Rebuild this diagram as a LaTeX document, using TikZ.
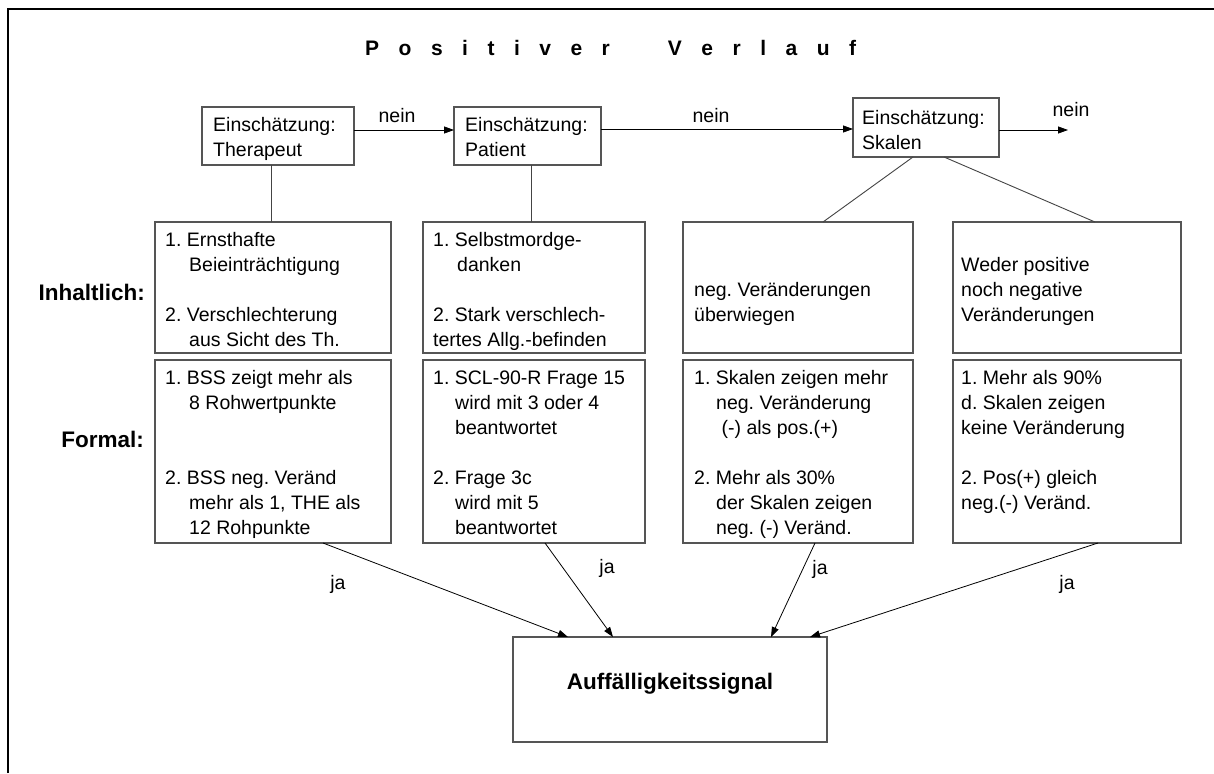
\documentclass[tikz,border=0pt]{standalone}
\usepackage{fontspec}
\setmainfont{Liberation Sans}
\usetikzlibrary{arrows.meta,calc}
\definecolor{boxgray}{HTML}{555555}
\definecolor{linegray}{HTML}{444444}
\newcommand\lsp{\hspace{19.5pt}}
\newcommand\ind{\hspace*{24pt}}
\begin{document}
\frenchspacing
\begin{tikzpicture}[x=1pt,y=-1pt,
  bx/.style={draw=boxgray,line width=1.3pt,inner sep=0pt,outer sep=0pt},
  txt/.style={anchor=north west,inner sep=0pt,align=left,font=\fontsize{19.5}{25}\selectfont\frenchspacing},
  lbl/.style={anchor=base,inner sep=0pt,font=\fontsize{19.5}{25}\selectfont},
  bold/.style={inner sep=0pt,font=\fontsize{22.5}{27}\selectfont\bfseries},
  arr/.style={draw=black,line width=0.8pt,-{Triangle[length=10pt,width=7pt]}},
  conn/.style={draw=linegray,line width=0.9pt}]
\useasboundingbox (0,0) rectangle (1214,773);
\fill[white] (0,0) rectangle (1214,773);
% outer frame
\draw[line width=1.5pt] (8,773) -- (8,9) -- (1214,9);
% title
\node[anchor=base west,inner sep=0pt,font=\fontsize{21}{25}\selectfont\bfseries] (title) at (365,56)
  {P\lsp o\lsp s\lsp i\lsp t\lsp i\lsp v\lsp e\lsp r\hspace{58pt}V\lsp e\lsp r\lsp l\lsp a\lsp u\lsp f};
% top boxes
\node[bx,minimum width=152pt,minimum height=58pt] (T) at (278,136) {};
\node[bx,minimum width=147pt,minimum height=58pt] (P) at (527.5,136) {};
\node[bx,minimum width=146pt,minimum height=59pt] (S) at (926,127.5) {};
\node[txt] (tT) at (213,113) {\rule{0pt}{18pt}Einschätzung:\\Therapeut};
\node[txt] (tP) at (465,113) {\rule{0pt}{18pt}Einschätzung:\\Patient};
\node[txt] (tS) at (862,106) {\rule{0pt}{18pt}Einschätzung:\\Skalen};
% inhaltlich boxes
\node[bx,minimum width=236pt,minimum height=131pt] (i1) at (273,287.5) {};
\node[bx,minimum width=222pt,minimum height=131pt] (i2) at (534,287.5) {};
\node[bx,minimum width=230pt,minimum height=131pt] (i3) at (798,287.5) {};
\node[bx,minimum width=228pt,minimum height=131pt] (i4) at (1067,287.5) {};
% formal boxes
\node[bx,minimum width=236pt,minimum height=183pt] (f1) at (273,451.5) {};
\node[bx,minimum width=222pt,minimum height=183pt] (f2) at (534,451.5) {};
\node[bx,minimum width=230pt,minimum height=183pt] (f3) at (798,451.5) {};
\node[bx,minimum width=228pt,minimum height=183pt] (f4) at (1067,451.5) {};
% result box
\node[bx,minimum width=314pt,minimum height=105pt] (A) at (670,689.5) {};
\node[bold,anchor=base] (tA) at (670,689) {Auffälligkeitssignal};
% row labels
\node[bold,anchor=base east] (lInh) at (145,300) {Inhaltlich:};
\node[bold,anchor=base east] (lForm) at (144,447) {Formal:};
% texts inhaltlich
\node[txt] (ti1) at (165,228) {\rule{0pt}{18pt}1. Ernsthafte\\\ind Beieinträchtigung\\[25pt]2. Verschlechterung\\\ind aus Sicht des Th.};
\node[txt] (ti2) at (433,228) {\rule{0pt}{18pt}1. Selbstmordge-\\\ind danken\\[25pt]2. Stark verschlech-\\tertes Allg.-befinden};
\node[txt] (ti3) at (694,278) {\rule{0pt}{18pt}neg. Veränderungen\\überwiegen};
\node[txt] (ti4) at (961,253) {\rule{0pt}{18pt}Weder positive\\noch negative\\Veränderungen};
% texts formal
\node[txt] (tf1) at (165,366) {\rule{0pt}{18pt}1. BSS zeigt mehr als\\\ind 8 Rohwertpunkte\\[50pt]2. BSS neg. Veränd\\\ind mehr als 1, THE als\\\ind 12 Rohpunkte};
\node[txt] (tf2) at (433,366) {\rule{0pt}{18pt}1. SCL-90-R Frage 15\\\hspace*{22pt}wird mit 3 oder 4\\\hspace*{22pt}beantwortet\\[25pt]2. Frage 3c\\\hspace*{22pt}wird mit 5\\\hspace*{22pt}beantwortet};
\node[txt] (tf3) at (694,366) {\rule{0pt}{18pt}1. Skalen zeigen mehr\\\hspace*{22pt}neg. Veränderung\\\hspace*{22pt} (-) als pos.(+)\\[25pt]2. Mehr als 30\%\\\hspace*{22pt}der Skalen zeigen\\\hspace*{22pt}neg. (-) Veränd.};
\node[txt] (tf4) at (961,366) {\rule{0pt}{18pt}1. Mehr als 90\%\\d. Skalen zeigen\\keine Veränderung\\[25pt]2. Pos(+) gleich\\neg.(-) Veränd.};
% nein arrows
\draw[arr] ([yshift=6pt]T.east) -- ([yshift=6pt]T.east -| P.west);
\draw[arr] ([yshift=7pt]P.east) -- ([yshift=7pt]P.east -| S.west);
\coordinate (sout) at (1068,130);
\draw[arr] (S.east |- sout) -- (sout);
\node[lbl] (n1) at (397,123) {nein};
\node[lbl] (n2) at (711,123) {nein};
\node[lbl] (n3) at (1071,117) {nein};
% connectors to content boxes
\draw[conn] ([xshift=-7pt]T.south) -- ([xshift=-7pt]T.south |- i1.north);
\draw[conn] ([xshift=3.5pt]P.south) -- ([xshift=3.5pt]P.south |- i2.north);
\draw[conn] ([xshift=-13pt]S.south) -- ([xshift=25pt]i3.north);
\draw[conn] ([xshift=18pt]S.south) -- ([xshift=28pt]i4.north);
% ja arrows
\draw[arr] ([xshift=50pt]f1.south) -- ([xshift=-102pt]A.north);
\draw[arr] ([xshift=11pt]f2.south) -- ([xshift=-57pt]A.north);
\draw[arr] ([xshift=17pt]f3.south) -- ([xshift=101pt]A.north);
\draw[arr] ([xshift=31pt]f4.south) -- ([xshift=140pt]A.north);
\node[lbl] (j1) at (338,589) {ja};
\node[lbl] (j2) at (607,573) {ja};
\node[lbl] (j3) at (820,574) {ja};
\node[lbl] (j4) at (1067,589) {ja};
\end{tikzpicture}
\end{document}
